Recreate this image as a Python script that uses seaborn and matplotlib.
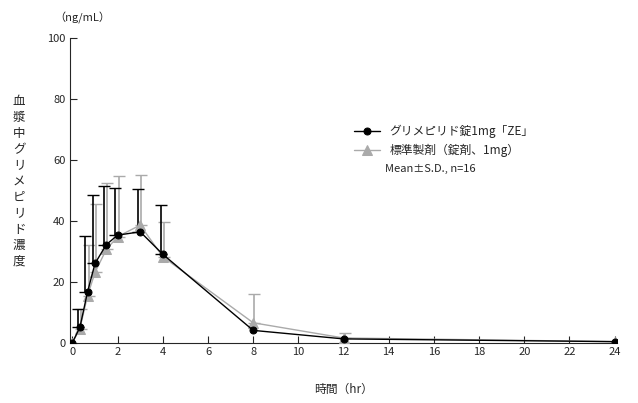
import numpy as np
import matplotlib.pyplot as plt
import seaborn as sns

hours = [0, 0.33, 0.67, 1, 1.5, 2, 3, 4, 8, 12, 24]
test_mean = [0, 5.0, 16.7, 26.0, 32.2, 35.3, 36.4, 29.0, 4.0, 1.2, 0.3]
test_sd = [0, 6.0, 18.3, 22.6, 19.4, 15.4, 14.1, 16.2, 0, 0, 0]
ref_mean = [0, 4.6, 15.4, 23.1, 30.6, 34.8, 38.6, 28.2, 6.5, 1.5, 0.3]
ref_sd = [0, 6.4, 16.8, 22.4, 21.8, 19.9, 16.4, 11.3, 9.5, 1.5, 0]

sns.set_style("ticks")
plt.rcParams['font.family'] = ['Noto Sans CJK JP', 'DejaVu Sans']

fig, ax = plt.subplots(figsize=(6.38, 4.03), dpi=100)
fig.subplots_adjust(left=0.11, right=0.967, top=0.905, bottom=0.15)


def upper_bars(x, m, sd, shift, color):
    x, m, sd = np.array(x), np.array(m), np.array(sd)
    k = sd > 0
    ax.errorbar(x[k] + shift, m[k], yerr=[np.zeros(k.sum()), sd[k]], fmt='none',
                ecolor=color, capsize=4, lw=1.2)


upper_bars(hours, ref_mean, ref_sd, 0.05, '#aaaaaa')
upper_bars(hours, test_mean, test_sd, -0.1, 'black')
sns.lineplot(x=hours, y=ref_mean, ax=ax, color='#aaaaaa', marker='^', markersize=7,
             lw=1, markeredgecolor='#aaaaaa', label='標準製剤（錠剤、1mg）', zorder=3)
sns.lineplot(x=hours, y=test_mean, ax=ax, color='black', marker='o', markersize=5,
             lw=1, markeredgecolor='black', label='グリメピリド錠1mg「ZE」', zorder=4)

ax.set_xlim(-0.1, 24.1)
ax.set_ylim(0, 100)
ax.set_xticks(range(0, 25, 2))
ax.set_yticks(range(0, 101, 20))
ax.tick_params(direction='in', labelsize=8, length=5)
sns.despine(ax=ax)

handles, labels = ax.get_legend_handles_labels()
leg = ax.legend(handles[::-1], labels[::-1], loc='upper left', bbox_to_anchor=(0.5, 0.75),
                frameon=False, fontsize=8.5, handlelength=2.2)
ax.text(0.575, 0.56, 'Mean±S.D., n=16', transform=ax.transAxes, fontsize=8)

ax.set_xlabel('時間（hr）', fontsize=8.5, labelpad=18)
fig.text(0.03, 0.55, '\n'.join('血漿中グリメピリド濃度'), ha='center', va='center',
         fontsize=9, linespacing=1.3)
fig.text(0.085, 0.955, '（ng/mL）', ha='left', va='center', fontsize=8)

fig.savefig('out.png', dpi=100)
